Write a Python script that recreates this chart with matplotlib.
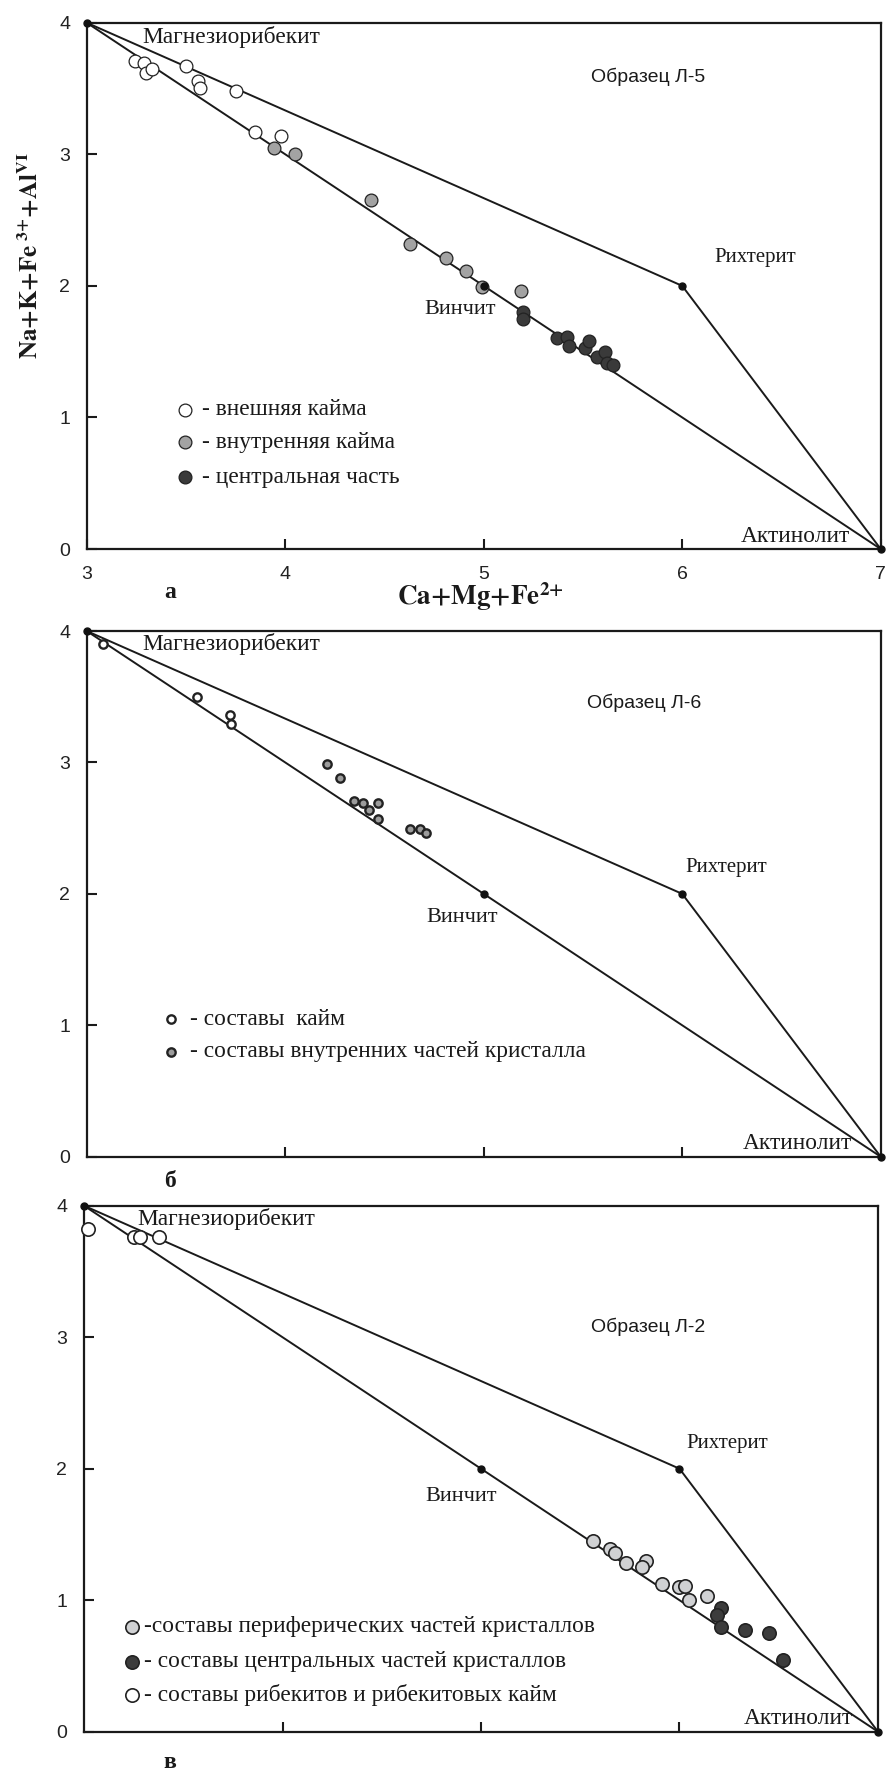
import numpy as np
import matplotlib.pyplot as plt

plt.rcParams['mathtext.fontset'] = 'stix'
SERIF = 'Liberation Serif'
SANS = 'Liberation Sans'

# вершины: Магнезиорибекит, Винчит, Рихтерит, Актинолит
apex_names = ['Магнезиорибекит', 'Винчит', 'Рихтерит', 'Актинолит']
apex_sizes = [16.8, 16, 15, 16.8]
apex_x = [3, 5, 6, 7]
apex_y = [4, 2, 2, 0]

# Образец Л-5
l5_outer_x = [3.245, 3.29, 3.30, 3.33, 3.50, 3.56, 3.57, 3.75, 3.85, 3.98]
l5_outer_y = [3.71, 3.69, 3.62, 3.65, 3.67, 3.56, 3.50, 3.48, 3.17, 3.14]
l5_inner_x = [3.945, 4.05, 4.43, 4.63, 4.81, 4.91, 4.99, 5.19]
l5_inner_y = [3.05, 3.00, 2.65, 2.32, 2.21, 2.11, 1.99, 1.96]
l5_core_x = [5.20, 5.20, 5.37, 5.42, 5.43, 5.51, 5.53, 5.57, 5.61, 5.62, 5.65]
l5_core_y = [1.80, 1.75, 1.60, 1.61, 1.54, 1.53, 1.58, 1.46, 1.50, 1.41, 1.40]

# Образец Л-6
l6_rim_x = [3.08, 3.557, 3.72, 3.725]
l6_rim_y = [3.90, 3.50, 3.36, 3.29]
l6_inner_x = [4.21, 4.275, 4.345, 4.39, 4.42, 4.47, 4.47, 4.63, 4.68, 4.71]
l6_inner_y = [2.99, 2.88, 2.71, 2.69, 2.64, 2.69, 2.57, 2.49, 2.49, 2.46]

# Образец Л-2
l2_rib_x = [3.02, 3.25, 3.28, 3.38]
l2_rib_y = [3.82, 3.76, 3.76, 3.76]
l2_per_x = [5.565, 5.65, 5.675, 5.73, 5.83, 5.81, 5.91, 6.0, 6.03, 6.14, 6.05]
l2_per_y = [1.45, 1.39, 1.36, 1.28, 1.30, 1.255, 1.12, 1.10, 1.11, 1.03, 1.0]
l2_core_x = [6.21, 6.19, 6.21, 6.33, 6.45, 6.52]
l2_core_y = [0.94, 0.89, 0.80, 0.77, 0.75, 0.545]

W, H = 887, 1771
fig = plt.figure(figsize=(W / 100, H / 100), dpi=100)


def make_axes(left, top, bottom, xlabels):
    ax = fig.add_axes([left / W, 1 - bottom / H, 794 / W, (bottom - top) / H])
    ax.set_xlim(3, 7)
    ax.set_ylim(0, 4)
    for s in ax.spines.values():
        s.set_linewidth(1.6)
        s.set_color('#1a1a1a')
    ax.set_yticks([0, 1, 2, 3, 4])
    if xlabels:
        ax.set_xticks([3, 4, 5, 6, 7])
    else:
        ax.set_xticks([4, 5, 6])
        ax.set_xticklabels([])
    ax.tick_params(direction='in', length=7, width=1.5, color='#1a1a1a',
                   labelsize=14, pad=12)
    for lab in ax.get_xticklabels() + ax.get_yticklabels():
        lab.set_fontfamily(SANS)
        lab.set_color('#222222')
    # линии диаграммы
    up = [0, 2, 3]
    low = [0, 1, 3]
    ax.plot([apex_x[i] for i in up], [apex_y[i] for i in up], color='#1a1a1a', lw=1.4, zorder=2)
    ax.plot([apex_x[i] for i in low], [apex_y[i] for i in low], color='#1a1a1a', lw=1.4, zorder=2)
    return ax


def apexes(ax, pos):
    ax.plot(apex_x, apex_y, 'o', ms=5, color='#111111', ls='none', zorder=6, clip_on=False)
    for name, fs, (tx, ty, ha) in zip(apex_names, apex_sizes, pos):
        ax.text(tx, ty, name, family=SERIF, fontsize=fs, ha=ha, va='center', color='#1a1a1a')


def pts(ax, x, y, fc, ms, mew):
    ax.plot(x, y, 'o', ls='none', ms=ms, mfc=fc, mec='#222222', mew=mew, zorder=4, clip_on=False)


def legend(ax, x, ys, items, ms, mew, tx):
    for y, (fc, label) in zip(ys, items):
        ax.plot([x], [y], 'o', ms=ms, mfc=fc, mec='#222222', mew=mew)
        ax.text(tx, y, label, family=SERIF, fontsize=16.8, ha='left', va='center', color='#1a1a1a')


# ---- а ----
ax = make_axes(86.7, 22.7, 549, True)
pts(ax, l5_outer_x, l5_outer_y, 'white', 9.2, 0.9)
pts(ax, l5_inner_x, l5_inner_y, '#a3a3a3', 9.2, 0.9)
pts(ax, l5_core_x, l5_core_y, '#3a3a3a', 9.2, 0.9)
apexes(ax, [(3.28, 3.894, 'left'), (4.88, 1.82, 'center'),
            (6.37, 2.215, 'center'), (6.57, 0.094, 'center')])
ax.text(5.83, 3.59, 'Образец Л-5', family=SANS, fontsize=14, ha='center', va='center', color='#1a1a1a')
legend(ax, 3.495, [1.057, 0.81, 0.545],
       [('white', '- внешняя кайма'), ('#a3a3a3', '- внутренняя кайма'),
        ('#3a3a3a', '- центральная часть')], 9.2, 0.9, 3.58)

# ---- б ----
ax = make_axes(86.7, 631, 1156.7, False)
pts(ax, l6_rim_x, l6_rim_y, 'white', 6, 1.7)
pts(ax, l6_inner_x, l6_inner_y, '#9c9c9c', 6, 1.7)
apexes(ax, [(3.28, 3.90, 'left'), (4.89, 1.82, 'center'),
            (6.22, 2.20, 'center'), (6.58, 0.10, 'center')])
ax.text(5.81, 3.454, 'Образец Л-6', family=SANS, fontsize=14, ha='center', va='center', color='#1a1a1a')
legend(ax, 3.425, [1.045, 0.80],
       [('white', '- составы  кайм'), ('#9c9c9c', '- составы внутренних частей кристалла')],
       6, 1.7, 3.52)

# ---- в ----
ax = make_axes(84, 1205.7, 1731.7, False)
pts(ax, l2_rib_x, l2_rib_y, 'white', 9.6, 1.2)
pts(ax, l2_per_x, l2_per_y, '#d0d1d3', 9.6, 1.2)
pts(ax, l2_core_x, l2_core_y, '#3c3c3c', 9.6, 1.2)
apexes(ax, [(3.27, 3.896, 'left'), (4.90, 1.79, 'center'),
            (6.24, 2.195, 'center'), (6.60, 0.10, 'center')])
ax.text(5.84, 3.08, 'Образец Л-2', family=SANS, fontsize=14, ha='center', va='center', color='#1a1a1a')
legend(ax, 3.24, [0.80, 0.533, 0.28],
       [('#d0d1d3', '-составы периферических частей кристаллов'),
        ('#3c3c3c', '- составы центральных частей кристаллов'),
        ('white', '- составы рибекитов и рибекитовых кайм')], 9.6, 1.2, 3.30)

# подписи осей и панелей
fig.text(30 / W, 1 - 256 / H, r'$\mathbf{Na{+}K{+}Fe}^{\ \mathbf{3{+}}}\mathbf{{+}Al}^{\mathbf{VI}}$',
         rotation=90, ha='center', va='center', fontsize=18, color='#1a1a1a')
fig.text(480 / W, 1 - 597 / H, r'$\mathbf{Ca{+}Mg{+}Fe}^{\mathbf{2{+}}}$',
         ha='center', va='center', fontsize=19.5, color='#1a1a1a')
for lab, yy in [('а', 592), ('б', 1181.7), ('в', 1763)]:
    fig.text(170 / W, 1 - yy / H, lab, family=SERIF, weight='bold', fontsize=17,
             ha='center', va='center', color='#1a1a1a')

fig.savefig('out.png', dpi=100)
